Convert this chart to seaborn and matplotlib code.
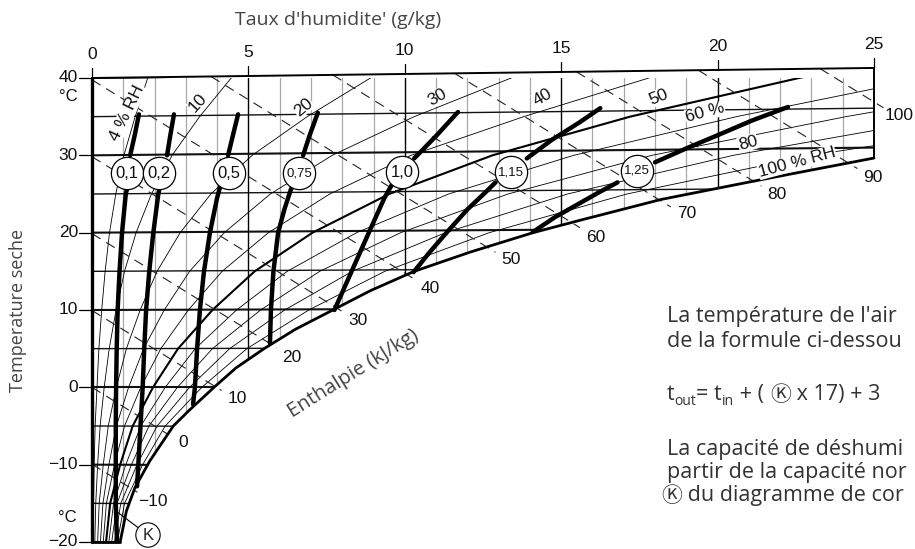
import numpy as np
import pandas as pd
import matplotlib.pyplot as plt
import seaborn as sns
from matplotlib.patches import Polygon
from matplotlib.transforms import offset_copy

sns.set_theme(style="white")
plt.rcParams['font.family'] = ['Liberation Sans', 'DejaVu Sans']

# ---- values (x = g/kg, y = dry temperature) ----
x_ticks = [0, 5, 10, 15, 20, 25]
y_ticks = [40, 30, 20, 10, 0, -10, -20]
y_tick_labels = ['40', '30', '20', '10', '0', '\u221210', '\u221220']

# top boundary (40 °C isotherm) rises slightly to the right
top_x = [0, 25]
top_T = [40, 41.3]

# saturation curve (100 % RH)
sat_x = [0.9, 1.1, 1.37, 1.85, 2.6, 3.1, 3.9, 4.6, 5.5, 6.5, 7.7, 8.9, 10.3,
         12.1, 14.1, 15.6, 18.2, 21.2, 25.0]
sat_T = [-20, -16, -13, -9.5, -5, -3, 0, 2.5, 5, 7.5, 10, 12.5, 15,
         17.5, 20, 21.6, 24.3, 26.7, 29.65]

# isotherms: temperature at the left edge and at the right edge
iso_T = [-20, -15, -10, -5, 0, 5, 10, 15, 20, 25, 30, 35, 40]
iso_T_right = [-20.65, -15.5, -10.3, -5.2, 0, 5.2, 10.3, 15.5, 20.65, 25.8, 31.0, 36.1, 41.3]

# relative humidity curves, x read at these temperatures
rh_T = [-20, -15, -10, -5, 0, 5, 10, 15, 20, 25, 30, 35, 40, 42]
rh_curves = {
    4:  [0.04, 0.05, 0.07, 0.10, 0.16, 0.22, 0.31, 0.42, 0.56, 0.76, 1.02, 1.38, 1.78, 1.96],
    10: [0.09, 0.12, 0.18, 0.26, 0.39, 0.55, 0.77, 1.04, 1.41, 1.90, 2.56, 3.44, 4.45, 4.90],
    20: [0.18, 0.23, 0.36, 0.52, 0.78, 1.10, 1.54, 2.08, 2.82, 3.80, 5.12, 6.88, 8.90, 9.80],
    30: [0.27, 0.35, 0.54, 0.78, 1.17, 1.65, 2.31, 3.12, 4.23, 5.70, 7.68, 10.3, 13.4, 14.7],
    40: [0.36, 0.46, 0.72, 1.04, 1.56, 2.20, 3.08, 4.16, 5.64, 7.60, 10.2, 13.8, 17.8, 19.6],
    50: [0.45, 0.58, 0.90, 1.30, 1.95, 2.75, 3.85, 5.20, 7.05, 9.50, 12.8, 17.2, 22.6, 25.0],
    60: [0.54, 0.69, 1.08, 1.56, 2.34, 3.30, 4.62, 6.24, 8.46, 11.4, 15.4, 20.6, 26.7, 29.4],
    70: [0.63, 0.80, 1.26, 1.82, 2.73, 3.85, 5.39, 7.28, 9.87, 13.3, 17.9, 24.1, 31.2, 34.3],
    80: [0.72, 0.92, 1.44, 2.08, 3.12, 4.40, 6.16, 8.32, 11.3, 15.2, 20.5, 27.5, 35.6, 39.2],
    90: [0.81, 1.04, 1.62, 2.34, 3.51, 4.95, 6.93, 9.36, 12.7, 17.1, 23.0, 31.0, 40.1, 44.1],
}
rh_labels = ['4 % RH', '10', '20', '30', '40', '50', '60 %', '80', '100 % RH']
rh_lab_x = [1.12, 3.39, 6.75, 11.03, 14.42, 18.1, 19.6, 20.97, 22.54]
rh_lab_T = [35.5, 36.8, 36.25, 37.5, 37.5, 37.5, 35.5, 31.6, 29.1]
rh_lab_rot = [64, 48, 40, 30, 30, 22, 15, 15, 15]

# enthalpy lines (kJ/kg) and where their numbers sit
enth = [-10, 0, 10, 20, 30, 40, 50, 60, 70, 80, 90, 100]
enth_lab_x = [1.95, 2.9, 4.64, 6.4, 8.5, 10.8, 13.4, 16.1, 19.0, 21.9, 24.97, 25.8]
enth_lab_T = [-14.7, -7.1, -1.4, 3.9, 8.7, 12.8, 16.5, 19.4, 22.5, 24.9, 27.1, 35.2]

# K curves (lower part below the circle, upper part above it)
k_lower = {
    '0,1':  ([0.80, 0.76, 0.76, 0.76, 0.77, 0.79, 0.82, 0.88, 0.96, 1.08, 1.15],
             [-20, -15, -10, -5, 0, 5, 10, 15, 20, 25, 26.2]),
    '0,2':  ([1.44, 1.48, 1.55, 1.62, 1.67, 1.73, 1.83, 1.96, 2.12, 2.2],
             [-12.8, -10, -5, 0, 5, 10, 15, 20, 25, 26.5]),
    '0,5':  ([3.23, 3.29, 3.36, 3.45, 3.58, 3.77, 4.0, 4.1],
             [-2.2, 0, 5, 10, 15, 20, 24.5, 26]),
    '0,75': ([5.69, 5.72, 5.8, 5.95, 6.15, 6.35, 6.45],
             [5.7, 10, 15, 20, 23, 25.5, 26.3]),
    '1,0':  ([7.75, 8.3, 8.85, 9.35, 9.6],
             [10, 15, 20, 24.5, 26.3]),
    '1,15': ([10.28, 10.8, 11.4, 12.0, 12.6, 12.9],
             [14.9, 17.5, 20.3, 23, 25.3, 26.5]),
    '1,25': ([14.1, 14.8, 15.5, 16.2, 16.8],
             [20.1, 22.0, 23.6, 25.2, 26.5]),
}
k_upper = {
    '0,1':  ([1.22, 1.36, 1.50], [30, 32.5, 35.3]),
    '0,2':  ([2.4, 2.5, 2.62], [30, 32.5, 35.3]),
    '0,5':  ([4.35, 4.5, 4.67], [30, 32.5, 35.3]),
    '0,75': ([6.75, 6.95, 7.22], [30, 32.5, 35.5]),
    '1,0':  ([10.3, 11.0, 11.7], [29.6, 32.5, 35.6]),
    '1,15': ([13.9, 14.7, 15.6, 16.25], [29.6, 32, 34.3, 36.1]),
    '1,25': ([18.0, 19.0, 20.0, 21.1, 22.25], [29.1, 30.9, 32.6, 34.5, 36.25]),
}
k_circle_x = [1.12, 2.14, 4.38, 6.62, 9.91, 13.4, 17.42]
k_circle_T = [27.7, 27.7, 27.7, 27.7, 27.8, 27.8, 28.0]

# ---- figure ----
fig = plt.figure(figsize=(9.15, 5.49), dpi=100)
ax = fig.add_axes([92 / 915, 7 / 549, 782 / 915, 464 / 549])
ax.set_xlim(0, 25)
ax.set_ylim(-20, 40)
ax.axis('off')

# chart area used as clip region
area_xy = ([(0, -20), (0, top_T[0]), (25, top_T[1]), (25, sat_T[-1])]
           + list(zip(sat_x[::-1], sat_T[::-1])) + [(0, -20)])
area = Polygon(area_xy, closed=True, fc='none', ec='none', transform=ax.transData)
ax.add_patch(area)

# vertical grid (g/kg)
for xv in range(1, 25):
    major = xv % 5 == 0
    ln, = ax.plot([xv, xv], [-21, 42], color='black' if major else '#a8a8a8',
                  lw=1.0 if major else 0.9, zorder=1)
    ln.set_clip_path(area)

# isotherms
for t0, t1 in zip(iso_T, iso_T_right):
    ln, = ax.plot([0, 25], [t0, t1], color='#111111',
                  lw=1.5 if t0 % 10 == 0 else 1.0, zorder=2)
    ln.set_clip_path(area)

# relative humidity curves
for rh, xs in rh_curves.items():
    ln, = ax.plot(xs, rh_T, color='black', lw=1.5 if rh == 50 else 0.6, zorder=2)
    ln.set_clip_path(area)

for lab, lx, lt, rot in zip(rh_labels, rh_lab_x, rh_lab_T, rh_lab_rot):
    ax.text(lx, lt, lab, rotation=rot, ha='center', va='center', fontsize=12.5,
            color='#111111', zorder=8, rotation_mode='anchor',
            bbox=dict(fc='white', ec='none', pad=0.2))

# enthalpy lines (slope of the chart: about -2.5 °C per g/kg)
for h, lx, lt in zip(enth, enth_lab_x, enth_lab_T):
    t_left = h / 1.006
    if t_left <= 40:
        x0, y0 = 0.0, t_left
    else:
        x0 = (t_left - 40) / (2.5 + 1.3 / 25)
        y0 = 40 + 1.3 * x0 / 25
    x1 = lx - 0.5
    y1 = t_left - 2.5 * x1
    ax.plot([x0, x1], [y0, y1], color='#222222', lw=0.8, ls=(0, (9, 6)),
            zorder=2, clip_on=False)
    ax.text(lx, lt, f'{h}'.replace('-', '\u2212'), ha='center', va='center',
            fontsize=12.5, color='#111111', zorder=8)

# frame and saturation curve
ax.plot([0, 0], [-20, 40], color='black', lw=2.4, zorder=4, clip_on=False)
ax.plot(top_x, top_T, color='black', lw=1.4, zorder=4, clip_on=False)
ax.plot([25, 25], [sat_T[-1], top_T[1]], color='black', lw=1.4, zorder=4, clip_on=False)
ax.plot([0, sat_x[0]], [-20, -20], color='black', lw=2.0, zorder=4, clip_on=False)
ax.plot(sat_x, sat_T, color='black', lw=2.0, zorder=4, clip_on=False)

# K curves with seaborn
rows = []
for name in k_lower:
    for part, src in (('lo', k_lower), ('up', k_upper)):
        xs, ts = src[name]
        for xv, tv in zip(xs, ts):
            rows.append({'x': xv, 'T': tv, 'K': name, 'seg': name + part})
kdf = pd.DataFrame(rows)
sns.lineplot(data=kdf, x='x', y='T', units='seg', estimator=None, sort=False,
             color='black', lw=3.2, ax=ax, zorder=5, legend=False)

# K circles
ax.scatter(k_circle_x, k_circle_T, s=540, facecolor='white', edgecolor='black',
           linewidth=0.9, zorder=6, clip_on=False)
for name, cx, ct in zip(k_lower.keys(), k_circle_x, k_circle_T):
    ax.text(cx, ct, name, ha='center', va='center', zorder=7,
            fontsize=12 if len(name) == 3 else 9.5, color='#111111')

# K legend marker at the bottom
ax.annotate('K', xy=(0.8, -16.1), xytext=(1.79, -19.1), ha='center', va='center',
            fontsize=12, zorder=7, annotation_clip=False,
            bbox=dict(boxstyle='circle,pad=0.28', fc='white', ec='black', lw=0.8),
            arrowprops=dict(arrowstyle='-', lw=0.8, color='black', shrinkA=0, shrinkB=0))

# axis ticks and labels
for xv in x_ticks:
    tt = np.interp(xv, top_x, top_T)
    ax.plot([xv, xv], [tt, tt + 1.3], color='black', lw=0.9, clip_on=False)
    ax.text(xv, tt + 3.0, str(xv), ha='center', va='center', fontsize=12.5,
            color='#111111', clip_on=False)
for tv, lab in zip(y_ticks, y_tick_labels):
    ax.plot([-0.4, 0], [tv, tv], color='black', lw=0.9, clip_on=False)
    ax.text(-0.45, tv, lab, ha='right', va='center', fontsize=12.5, color='#111111')
ax.text(-0.75, 37.6, '\u00b0C', ha='center', va='center', fontsize=12, color='#111111')
ax.text(-0.8, -16.8, '\u00b0C', ha='center', va='center', fontsize=12, color='#111111')

title_font = ['Open Sans', 'Noto Sans CJK JP', 'DejaVu Sans']
ax.text(7.86, 47.5, "Taux d'humidite' (g/kg)", ha='center', va='center',
        fontsize=14, color='#444444', family=title_font)
ax.text(-2.37, 10.0, 'Temperature seche', rotation=90, ha='center', va='center',
        fontsize=13, color='#444444', family=title_font)
ax.text(8.35, 1.8, 'Enthalpie (kJ/kg)', rotation=32, ha='center', va='center',
        fontsize=14.5, color='#444444', family=title_font)

# explanatory text (runs up to the right edge as in the reference)
renderer = fig.canvas.get_renderer()


def text_run(x, y, pieces):
    # place text pieces one after another on the same baseline
    ox = 0.0
    for s, size, dy in pieces:
        tr = offset_copy(ax.transData, fig=fig, x=ox, y=dy, units='points')
        t = ax.text(x, y, s, transform=tr, ha='left', va='baseline',
                    fontsize=size, color='#333333', family=title_font)
        ox += t.get_window_extent(renderer).width * 72 / fig.dpi


fs = 15.5
text_run(18.38, 8.45, [("La température de l'air", fs, 0)])
text_run(18.38, 5.2, [('de la formule ci-dessou', fs, 0)])
text_run(18.38, -1.65, [('t', fs, 0), ('out', 10, -3.5), ('= t', fs, 0), ('in', 10, -3.5),
                        (' + ( ', fs, 0), ('\u24c0', 15, -1), (' x 17) + 3', fs, 0)])
text_run(18.38, -8.75, [('La capacité de déshumi', fs, 0)])
text_run(18.38, -11.7, [('partir de la capacité nor', fs, 0)])
text_run(18.2, -14.7, [('\u24c0', 15, -1), (' du diagramme de cor', fs, 0)])

fig.savefig('out.png', dpi=100)
